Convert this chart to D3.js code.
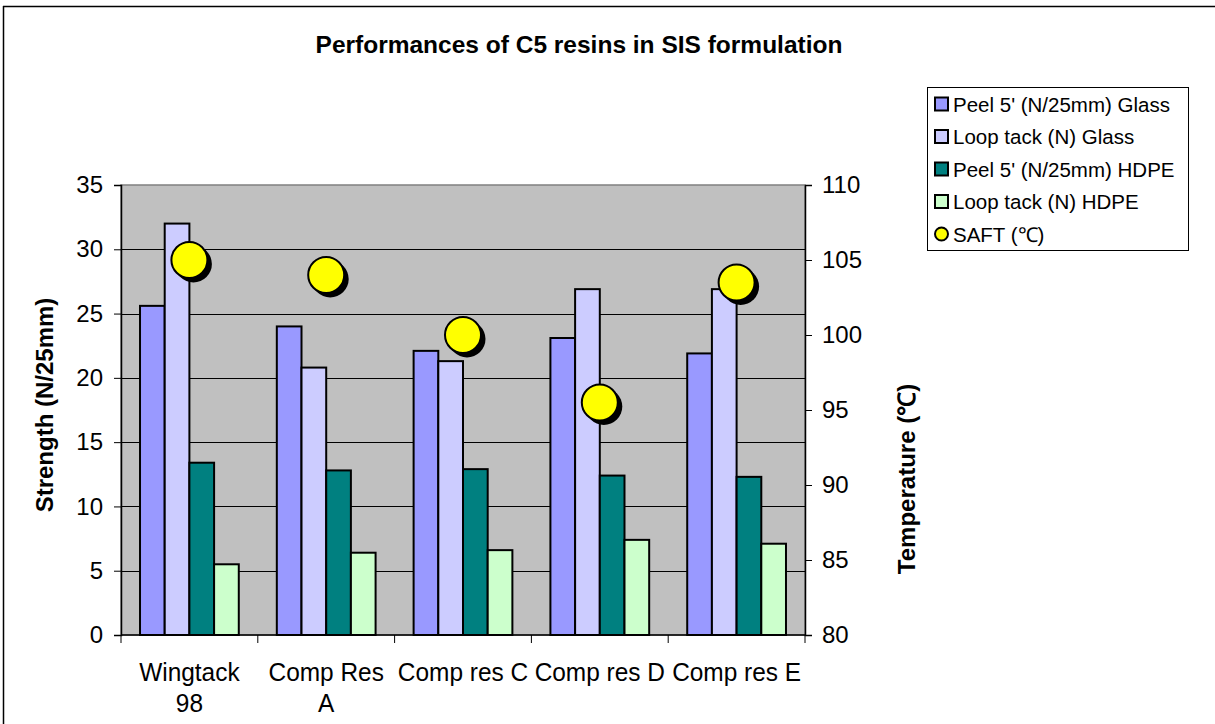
<!DOCTYPE html>
<html>
<head>
<meta charset="utf-8">
<script src="https://cdn.jsdelivr.net/npm/d3@7"></script>
<style>
  html, body { margin: 0; padding: 0; background: #fff; }
  svg { display: block; }
  text { font-family: "Liberation Sans", Arial, sans-serif; fill: #000; }
</style>
</head>
<body>
<svg id="chart" width="1215" height="724"></svg>
<script>
// ---- data ----
const categories = [["Wingtack", "98"], ["Comp Res", "A"], ["Comp res C"], ["Comp res D"], ["Comp res E"]];
const categoryKeys = ["Wingtack 98", "Comp Res A", "Comp res C", "Comp res D", "Comp res E"];
const seriesNames = ["Peel 5' (N/25mm) Glass", "Loop tack (N) Glass", "Peel 5' (N/25mm) HDPE", "Loop tack (N) HDPE"];
const peelGlass = [25.6, 24.0, 22.1, 23.1, 21.9];
const loopGlass = [32.0, 20.8, 21.3, 26.9, 26.9];
const peelHDPE = [13.4, 12.8, 12.9, 12.4, 12.3];
const loopHDPE = [5.5, 6.4, 6.6, 7.4, 7.1];
const saftName = "SAFT (\u2103)";
const saft = [105.0, 104.0, 100.0, 95.5, 103.5];
const leftTicks = [0, 5, 10, 15, 20, 25, 30, 35];
const rightTicks = [80, 85, 90, 95, 100, 105, 110];
const barColors = ["#9999FF", "#CCCCFF", "#008080", "#CCFFCC"];

const seriesValues = [peelGlass, loopGlass, peelHDPE, loopHDPE];

const svg = d3.select("#chart");

// outer chart frame
svg.append("line").attr("x1", 3.5).attr("x2", 3.5).attr("y1", 6).attr("y2", 724).attr("stroke", "#000").attr("stroke-width", 1.5);
svg.append("line").attr("x1", 3).attr("x2", 1215).attr("y1", 6.5).attr("y2", 6.5).attr("stroke", "#000").attr("stroke-width", 1.5);

const L = 121, R = 805, T = 185, B = 635;

const x = d3.scaleBand().domain(categoryKeys).range([L, R]).padding(0);
const xs = d3.scaleBand().domain(d3.range(4)).range([0, x.bandwidth()]).paddingInner(0).paddingOuter(0.77);
const yL = d3.scaleLinear().domain([0, 35]).range([B, T]);
const yR = d3.scaleLinear().domain([80, 110]).range([B, T]);

// plot background
svg.append("rect").attr("x", L).attr("y", T).attr("width", R - L).attr("height", B - T)
  .attr("fill", "#C0C0C0").attr("stroke", "#808080").attr("stroke-width", 1.5);

// gridlines
svg.append("g").selectAll("line").data(leftTicks.filter(d => d > 0 && d < 35)).join("line")
  .attr("x1", L).attr("x2", R).attr("y1", d => Math.round(yL(d)) + 0.5).attr("y2", d => Math.round(yL(d)) + 0.5)
  .attr("stroke", "#000").attr("stroke-width", 1);

// bars
const barG = svg.append("g");
seriesValues.forEach((vals, si) => {
  barG.append("g").selectAll("rect").data(vals).join("rect")
    .attr("x", (d, i) => x(categoryKeys[i]) + xs(si))
    .attr("y", d => yL(d))
    .attr("width", xs.bandwidth())
    .attr("height", d => B - yL(d))
    .attr("fill", barColors[si])
    .attr("stroke", "#000").attr("stroke-width", 2);
});

// left axis
const axL = svg.append("g").attr("transform", `translate(${L},0)`)
  .call(d3.axisLeft(yL).tickValues(leftTicks).tickSize(7).tickPadding(11).tickFormat(d3.format("d")));
axL.select(".domain").attr("stroke", "#000").attr("stroke-width", 1.5);
axL.selectAll(".tick line").attr("stroke", "#000");
axL.selectAll("text").attr("font-size", 24).attr("font-family", "Liberation Sans, Arial").attr("fill", "#000");

// right axis
const axR = svg.append("g").attr("transform", `translate(${R},0)`)
  .call(d3.axisRight(yR).tickValues(rightTicks).tickSize(7).tickPadding(10).tickFormat(d3.format("d")));
axR.select(".domain").attr("stroke", "#000").attr("stroke-width", 1.5);
axR.selectAll(".tick line").attr("stroke", "#000");
axR.selectAll("text").attr("font-size", 24).attr("font-family", "Liberation Sans, Arial").attr("fill", "#000");

// bottom axis (boundary ticks)
const boundaries = categoryKeys.map(k => x(k)).concat([R]);
svg.append("line").attr("x1", L).attr("x2", R).attr("y1", B).attr("y2", B).attr("stroke", "#000").attr("stroke-width", 1.5);
svg.append("g").selectAll("line").data(boundaries).join("line")
  .attr("x1", d => d).attr("x2", d => d).attr("y1", B).attr("y2", B + 8).attr("stroke", "#000");

// category labels (slightly condensed, as in the reference)
const catG = svg.append("g");
categories.forEach((lines, i) => {
  const cx = x(categoryKeys[i]) + x.bandwidth() / 2;
  const t = catG.append("text").attr("text-anchor", "middle").attr("font-size", 26)
    .attr("transform", `translate(${cx},681) scale(0.94,1)`);
  lines.forEach((ln, j) => {
    t.append("tspan").attr("x", 0).attr("dy", j === 0 ? 0 : 31).text(ln);
  });
});

// SAFT markers with shadow
const mk = svg.append("g");
const cxs = categoryKeys.map(k => x(k) + x.bandwidth() / 2);
mk.selectAll("circle.sh").data(saft).join("circle").attr("class", "sh")
  .attr("cx", (d, i) => cxs[i] + 4).attr("cy", d => yR(d) + 4).attr("r", 18.5).attr("fill", "#000");
mk.selectAll("circle.pt").data(saft).join("circle").attr("class", "pt")
  .attr("cx", (d, i) => cxs[i]).attr("cy", d => yR(d)).attr("r", 18).attr("fill", "#FFFF00")
  .attr("stroke", "#000").attr("stroke-width", 2);

// title
svg.append("text").attr("x", 579).attr("y", 53).attr("text-anchor", "middle")
  .attr("font-size", 24.5).attr("font-weight", "bold")
  .text("Performances of C5 resins in SIS formulation");

// axis titles
svg.append("text").attr("transform", "translate(53,405) rotate(-90)").attr("text-anchor", "middle")
  .attr("font-size", 24).attr("font-weight", "bold").text("Strength (N/25mm)");
svg.append("text").attr("transform", "translate(915,479) rotate(-90)").attr("text-anchor", "middle")
  .attr("font-size", 24).attr("font-weight", "bold").text("Temperature (\u2103)");

// legend
const lg = svg.append("g");
lg.append("rect").attr("x", 927.5).attr("y", 87.5).attr("width", 261).attr("height", 163)
  .attr("fill", "#fff").attr("stroke", "#000").attr("stroke-width", 1);
const rowsY = [104, 136.5, 169, 201.5, 234];
const legendItems = seriesNames.map((n, i) => ({ name: n, color: barColors[i], type: "bar" }))
  .concat([{ name: saftName, color: "#FFFF00", type: "dot" }]);
const li = lg.selectAll("g.item").data(legendItems).join("g").attr("class", "item")
  .attr("transform", (d, i) => `translate(0,${rowsY[i]})`);
li.filter(d => d.type === "bar").append("rect")
  .attr("x", 935).attr("y", -6.5).attr("width", 13).attr("height", 13)
  .attr("fill", d => d.color).attr("stroke", "#000").attr("stroke-width", 2);
li.filter(d => d.type === "dot").append("circle")
  .attr("cx", 941.5).attr("cy", 0).attr("r", 6.5)
  .attr("fill", d => d.color).attr("stroke", "#000").attr("stroke-width", 2);
li.append("text").attr("x", 953).attr("y", 7.5).attr("font-size", 20.5).text(d => d.name);
</script>
</body>
</html>
